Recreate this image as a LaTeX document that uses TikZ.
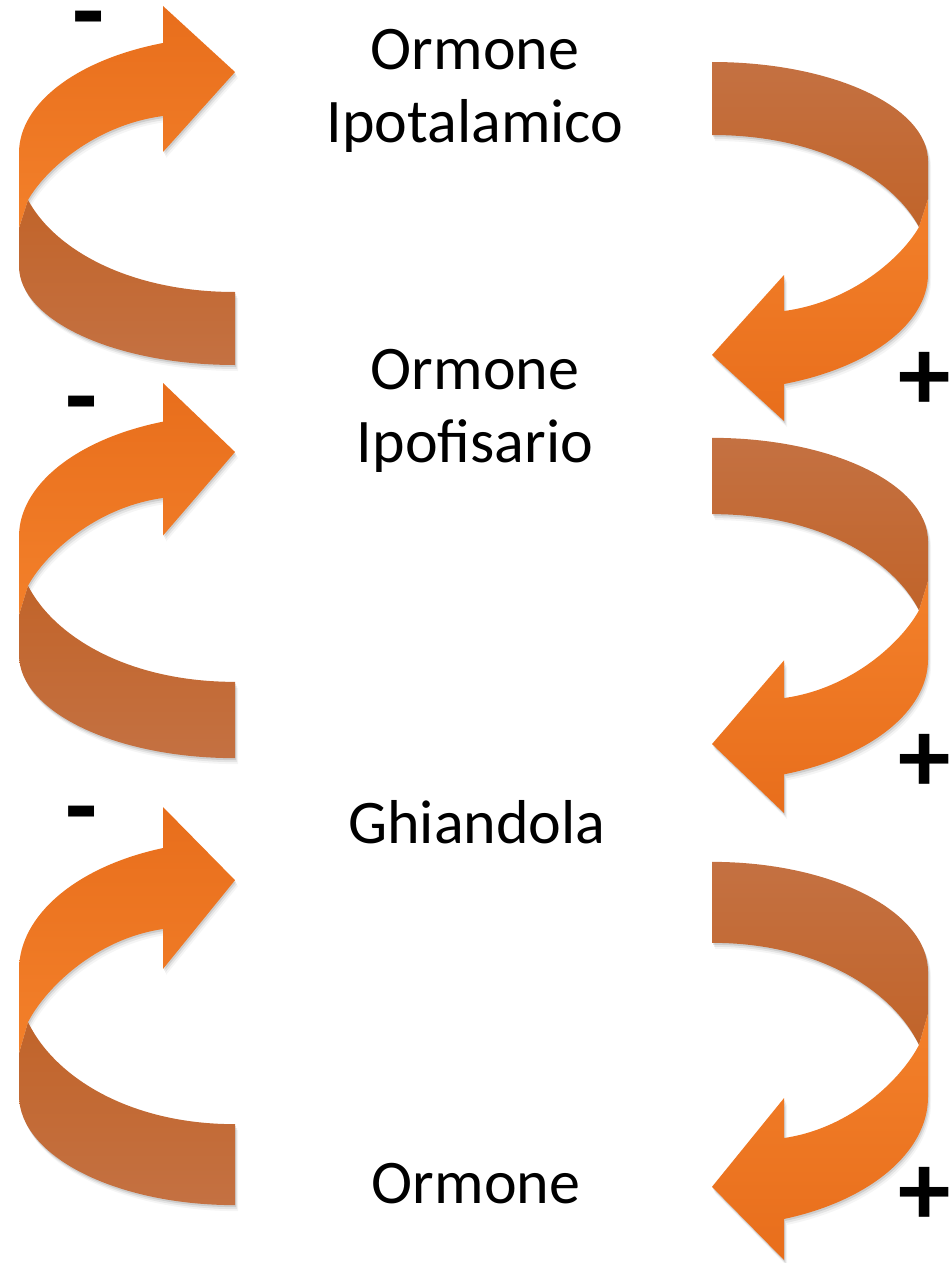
\documentclass[tikz,border=0pt]{standalone}
\usepackage{fontspec}
\setmainfont{Carlito}
\definecolor{orDark}{RGB}{232,110,28}
\definecolor{orLight}{RGB}{243,128,42}
\definecolor{brDark}{RGB}{193,100,42}
\definecolor{brLight}{RGB}{196,113,66}
\newcommand\brownshape{(19,228) -- (19,266) .. controls (19,320.7) and (115.7,365) .. (235,365) -- (235,292) .. controls (130,292) and (55,250) .. (28,200) -- cycle}
\newcommand\orangeshape{(163,43) .. controls (77,59.5) and (19,103.5) .. (19,153) -- (19,228) -- (28,200) .. controls (45,170) and (95,125) .. (163,116) -- (163,152) -- (235,72) -- (163,6) -- cycle}
\newcommand\twarrow[3]{%
  \foreach \dx/\dy/\op in {1/2/0.10, 2/4/0.07, 3/6/0.04}{%
    \begin{scope}[shift={(\dx,\dy)}]
      \begin{scope}[#1]
        \fill[black, fill opacity=\op] \brownshape \orangeshape;
      \end{scope}
    \end{scope}}%
  \begin{scope}[#1]
    \path[#3] \brownshape;
    \path[#2] \orangeshape;
  \end{scope}}
\tikzset{
  lbl/.style={font=\fontsize{62}{73}\selectfont, align=center, inner sep=0pt, text=black},
  sign/.style={font=\fontsize{105}{105}\selectfont\bfseries, inner sep=0pt, text=black},
  orL/.style={top color=orDark, bottom color=orLight},
  brL/.style={top color=brDark, bottom color=brLight},
  orR/.style={top color=orLight, bottom color=orDark},
  brR/.style={top color=brLight, bottom color=brDark}
}
\begin{document}
\begin{tikzpicture}[x=1pt, y=-1pt]
\useasboundingbox (0,0) rectangle (951,1263);
% left arrows
\twarrow{shift={(0,6)}, shift={(0,-6)}}{orL}{brL}
\twarrow{shift={(0,383)}, yscale=1.045, shift={(0,-6)}}{orL}{brL}
\twarrow{shift={(0,807)}, yscale=1.109, shift={(0,-6)}}{orL}{brL}
% right arrows
\twarrow{shift={(947,421)}, xscale=-1, yscale=-1, shift={(0,-6)}}{orR}{brR}
\twarrow{shift={(947,813)}, xscale=-1, yscale=-1.045, shift={(0,-6)}}{orR}{brR}
\twarrow{shift={(947,1260)}, xscale=-1, yscale=-1.109, shift={(0,-6)}}{orR}{brR}
% labels (anchor at baseline of the last line)
\node[lbl, anchor=base] (t1) at (475,142) {Ormone\\Ipotalamico};
\node[lbl, anchor=base] (t2) at (475,462) {Ormone\\Ipofisario};
\node[lbl, anchor=base] (t3) at (477,843) {Ghiandola};
\node[lbl, anchor=base] (t4) at (476,1203) {Ormone};
% signs
\node[sign] (m1) at (89,29) {-};
\node[sign] (m2) at (82,414) {-};
\node[sign] (m3) at (82,824) {-};
\node[sign] (p1) at (925,381) {+};
\node[sign] (p2) at (925,763) {+};
\node[sign] (p3) at (925,1196) {+};
\end{tikzpicture}
\end{document}
